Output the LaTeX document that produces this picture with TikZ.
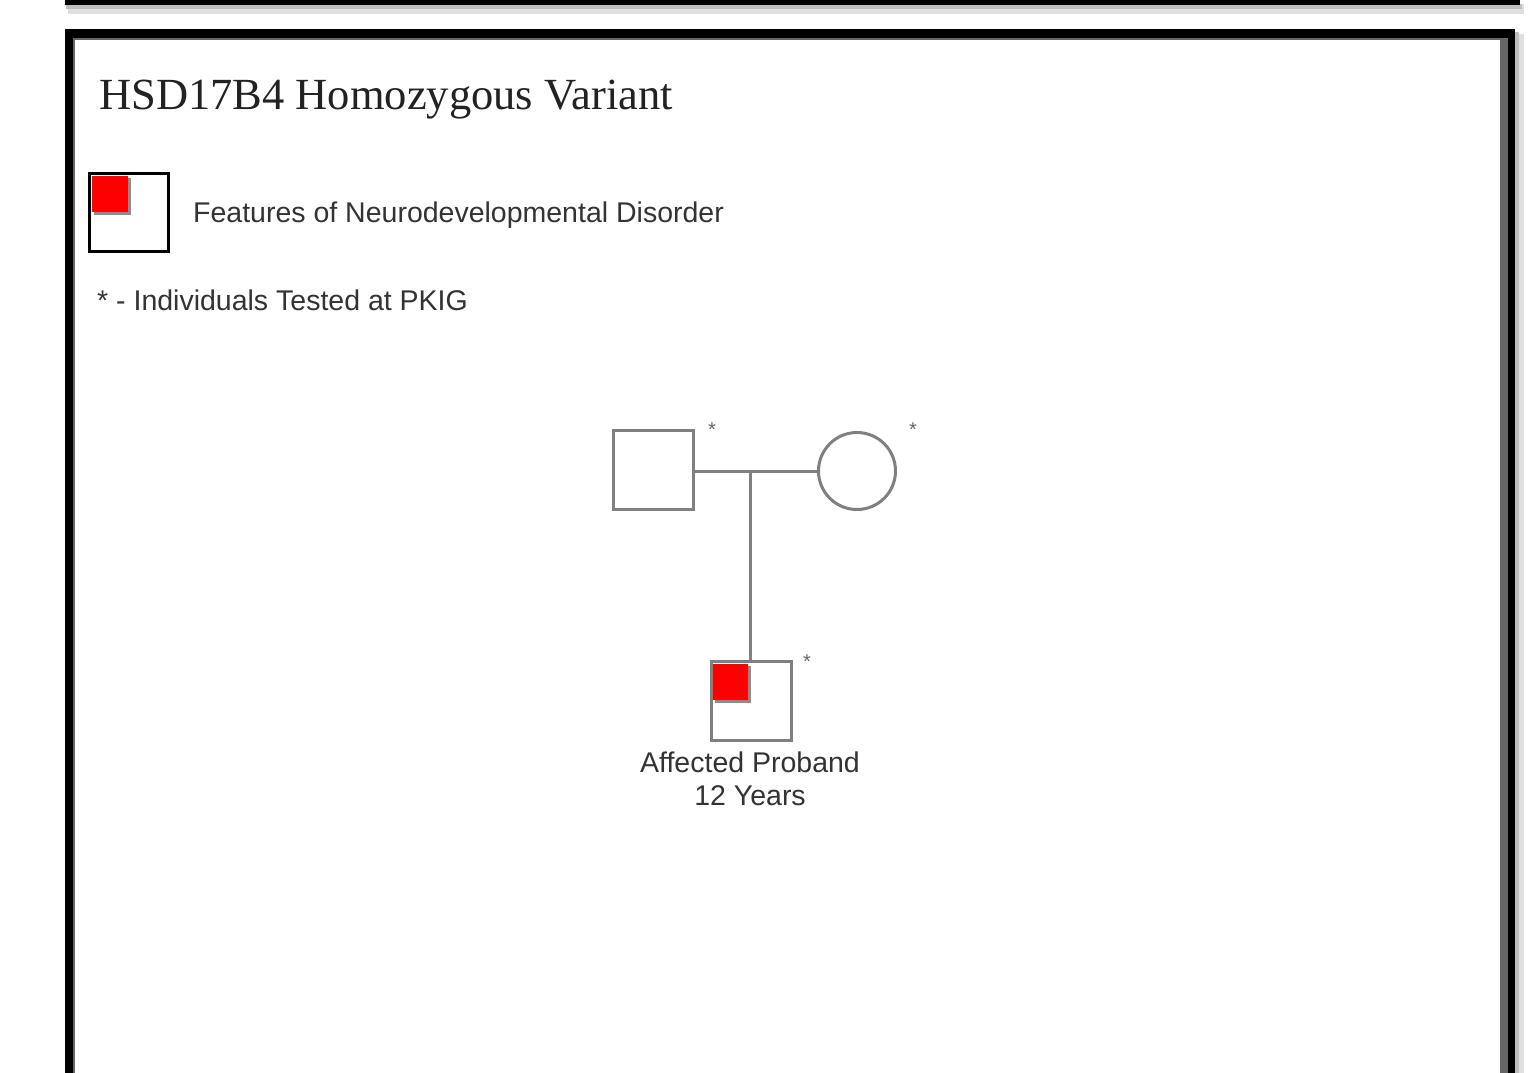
\documentclass[tikz,border=0pt]{standalone}
\usepackage{fontspec}
\setmainfont{Liberation Serif}
\newfontfamily\arialf{Liberation Sans}
\definecolor{pline}{RGB}{128,128,128}
\definecolor{framegray}{RGB}{102,102,102}
\definecolor{txt}{RGB}{51,51,51}
\definecolor{ttl}{RGB}{34,34,34}
\definecolor{affred}{RGB}{255,0,0}
\begin{document}
\begin{tikzpicture}[x=1pt,y=-1pt,
  person/.style={draw=pline,line width=3pt,inner sep=0pt},
  msq/.style={person,rectangle,minimum width=80pt,minimum height=79pt},
  fcirc/.style={person,circle,minimum size=77pt},
  sans/.style={font=\arialf\fontsize{28.5}{33}\selectfont,text=txt,inner sep=0pt},
  star/.style={font=\arialf\fontsize{20}{20}\selectfont,text=framegray,inner sep=0pt},
  pline/.style={draw=pline,line width=3pt}]
\useasboundingbox (0,0) rectangle (1537,1073);
\fill[white] (0,0) rectangle (1537,1073);
% top bar with shadow
\fill[black!12] (68,4) rectangle (1524,14);
\fill[black!25] (66,4) rectangle (1522,9);
\fill[black] (65,0) rectangle (1520,5);
% main frame shadow
\fill[black!12] (1515,34) rectangle (1524,1073);
\fill[black!25] (1515,32) rectangle (1519,1073);
% main frame
\fill[black] (65,29) rectangle (1515,1073);
\fill[framegray] (73,38) rectangle (1508,1073);
\fill[white] (75,40) rectangle (1500,1073);
% title
\node[anchor=west,inner sep=0pt,text=ttl,font=\fontsize{44.5}{50}\selectfont] (title) at (99,100) {HSD17B4 Homozygous Variant};
% legend
\fill[black!45] (94,178) rectangle (131,215);
\fill[affred] (91.5,175.5) rectangle (128,212);
\node[draw=black,line width=3pt,minimum width=79pt,minimum height=78pt,inner sep=0pt] (legbox) at (129,212.5) {};
\node[sans,anchor=west] (legtext) at (193,215.5) {Features of Neurodevelopmental Disorder};
\node[sans,anchor=west] (legstar) at (97,300) {* - Individuals Tested at PKIG};
% pedigree
\node[msq] (father) at (653,469.5) {};
\node[fcirc] (mother) at (857,471) {};
\fill[black!45] (715,666) rectangle (751,703);
\fill[affred] (712.5,663.5) rectangle (748,700);
\node[msq] (proband) at (751,701) {};
\coordinate (mid) at (750,471);
\draw[pline] (father.east |- mid) -- (mother.west);
\draw[pline] (mid) -- (mid |- proband.north);
\node[star] (fstar) at (712,430) {*};
\node[star] (mstar) at (913,430) {*};
\node[star] (pstar) at (807,662) {*};
\node[sans,align=center,anchor=north] (plabel) at (750,752) {Affected Proband\\12 Years};
\end{tikzpicture}
\end{document}
